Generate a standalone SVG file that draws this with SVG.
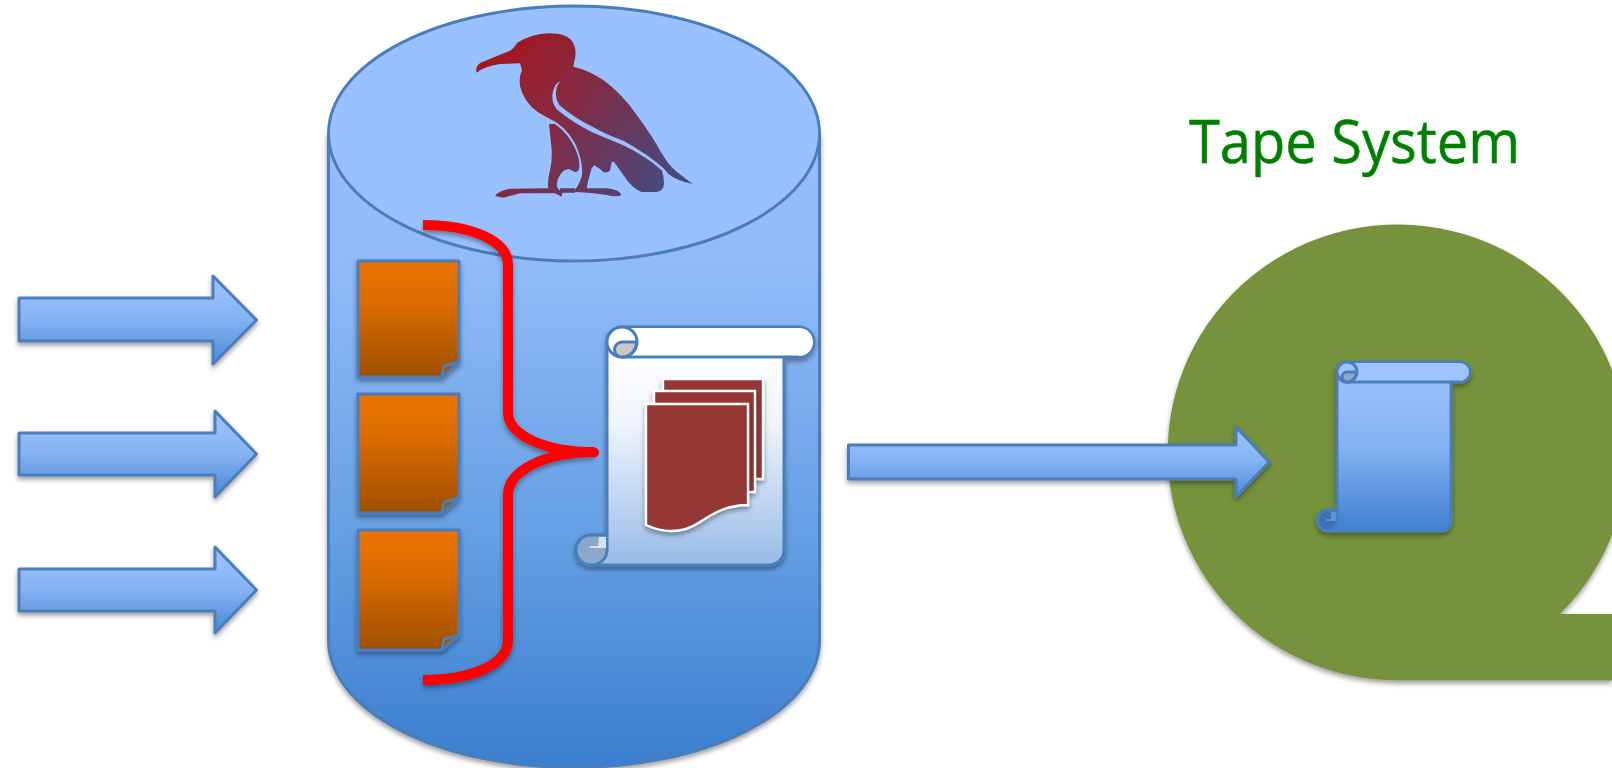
<svg xmlns="http://www.w3.org/2000/svg" width="1612" height="768" viewBox="0 0 1612 768">
<style>
.ol{stroke:#4a7ebb;stroke-width:3;stroke-linejoin:round}
.arrow{fill:url(#arrowFill);filter:url(#sh)}
.doc{fill:url(#docFill);filter:url(#sh)}
.fold{fill:#a65400;stroke:#4a7ebb;stroke-width:3;stroke-linejoin:round}
.mdoc{fill:#953735;stroke:#fff;stroke-width:2.4;filter:url(#sh)}
</style>
<defs>
<filter id="sh" x="-15%" y="-15%" width="130%" height="130%"><feDropShadow dx="0" dy="3" stdDeviation="2.6" flood-color="#000" flood-opacity=".38"/></filter>
<linearGradient id="arrowFill" x1="0" y1="0" x2="0" y2="1"><stop offset="0" stop-color="#a0c4ff"/><stop offset=".5" stop-color="#84b2f2"/><stop offset="1" stop-color="#4a8ad8"/></linearGradient>
<linearGradient id="cylFill" gradientUnits="userSpaceOnUse" x1="0" y1="6" x2="0" y2="768"><stop offset="0" stop-color="#9cc2ff"/><stop offset=".35" stop-color="#90baf8"/><stop offset=".7" stop-color="#659fe4"/><stop offset="1" stop-color="#3a7ecf"/></linearGradient>
<linearGradient id="docFill" x1="0" y1="0" x2="0" y2="1"><stop offset="0" stop-color="#ea7300"/><stop offset=".35" stop-color="#dc6c00"/><stop offset="1" stop-color="#a04f00"/></linearGradient>
<linearGradient id="scrollFill" gradientUnits="userSpaceOnUse" x1="0" y1="345" x2="0" y2="565"><stop offset="0" stop-color="#fff"/><stop offset=".35" stop-color="#f0f5fd"/><stop offset="1" stop-color="#98bbe8"/></linearGradient>
<linearGradient id="scroll2Fill" gradientUnits="userSpaceOnUse" x1="0" y1="362" x2="0" y2="531"><stop offset="0" stop-color="#a0c4ff"/><stop offset=".5" stop-color="#84b2f2"/><stop offset="1" stop-color="#3f80d0"/></linearGradient>
<linearGradient id="birdFill" gradientUnits="userSpaceOnUse" x1="60" y1="90" x2="610" y2="520"><stop offset="0" stop-color="#a8141a"/><stop offset=".45" stop-color="#842a42"/><stop offset="1" stop-color="#454a80"/></linearGradient>
</defs>

<g id="tape-reel">
<path d="M1560 614A230 228 0 1 0 1398 680.500H1612V614Z" fill="#76923c" filter="url(#sh)"/>
</g>
<g id="tape-label">
<text x="1189" y="163" font-family="'Open Sans','Noto Sans',sans-serif" font-size="60" fill="#008000" stroke="#008000" stroke-width=".5" textLength="331" lengthAdjust="spacingAndGlyphs">Tape System</text>
</g>

<g id="cylinder">
<path class="ol" d="M328.500 133.500V640.500A245.500 127 0 0 0 819.500 640.500V133.500Z" fill="url(#cylFill)" filter="url(#sh)"/>
<ellipse class="ol" cx="574" cy="133.500" rx="245.500" ry="127.500" fill="#9ac1ff"/>
</g>

<g id="bird" transform="translate(460 20) scale(.33333)">
<path fill="url(#birdFill)" d="M50 158Q44 140 62 128Q100 112 150 92Q162 85 172 68Q215 42 265 40Q310 38 332 58Q350 80 346 110L340 140Q385 150 430 180Q490 225 530 285Q575 345 605 400Q625 435 650 455L698 492Q650 482 625 462L606 452Q612 470 612 490Q612 512 590 516L545 516Q515 505 490 465L462 425L455 425L450 452Q435 465 420 447L403 436L395 445L385 480L380 505L440 505Q480 510 485 525Q470 533 440 525L400 520L340 515Q355 500 365 470Q372 430 345 370Q315 315 260 292Q205 265 185 215Q172 180 186 150L180 130L120 132Q70 140 50 158Z
M301 184Q283 190 277 225Q276 250 290 268Q340 310 400 338L490 376Q560 410 606 452L625 462L610 444Q560 400 490 362Q440 345 400 322Q340 292 298 255Q285 235 288 215Q290 195 301 184Z"/>
<path fill="url(#birdFill)" d="M267 312L285 312Q325 340 345 385Q365 430 355 452Q345 462 330 448Q310 445 297 470Q285 490 295 508L308 517L305 530L285 520L180 520L130 533L105 528Q115 512 150 506L265 505Q262 480 270 450Q278 420 274 380Z M300 505H345V518H300Z"/>
</g>

<g id="doc-1">
<path class="ol doc" d="M358 261H459V362L442 377H358Z"/>
<path class="fold" d="M459 362L444 366L442 377Z"/>
</g>
<g id="doc-2">
<path class="ol doc" d="M358 394H459V498L442 513H358Z"/>
<path class="fold" d="M459 498L444 502L442 513Z"/>
</g>
<g id="doc-3">
<path class="ol doc" d="M358 530H459V635L442 650H358Z"/>
<path class="fold" d="M459 635L444 639L442 650Z"/>
</g>

<g id="scroll">
<path class="ol" filter="url(#sh)" fill="url(#scrollFill)" d="M622 327H799A15 15 0 0 1 799 357H784V550A15 15 0 0 1 769 565H591A15 15 0 0 1 591 535H607V342A15 15 0 0 1 622 327Z"/>
<path fill="#fff" d="M622 328H799A14 14 0 0 1 799 356H622Z"/>
<path class="ol" fill="none" d="M622 357H799"/>
<path class="ol" fill="#fff" d="M622 327A15 15 0 0 1 622 357A15 15 0 0 1 622 327Z"/>
<path class="ol" fill="#c9c9c9" d="M622 357A7.500 7.500 0 0 1 622 342H636.500A15 15 0 0 1 622 357Z"/>
<path class="ol" fill="#8ba8cb" d="M591 535H607V550A15 15 0 0 1 591 565A15 15 0 0 1 591 535Z"/>
<path fill="#d4e2f4" d="M599 537H606V548H590V546H598Z"/>
<path class="mdoc" d="M663 379H763V479H663Z"/>
<path class="mdoc" d="M654 391H755V492H654Z"/>
<path class="mdoc" d="M646 404H748V505C728 505 715 512 700 522C685 532 668 535 646 525Z"/>
</g>

<g id="scroll-tape">
<path class="ol" filter="url(#sh)" fill="url(#scroll2Fill)" d="M1347 362H1460A10 10 0 0 1 1460 382H1451V521A10 10 0 0 1 1441 531H1328A10.500 10.500 0 0 1 1328 510H1337V372A10 10 0 0 1 1347 362Z"/>
<path fill="#9fc3ff" d="M1347 363H1460A9 9 0 0 1 1460 381H1347Z"/>
<path class="ol" fill="none" d="M1347 382H1460"/>
<path class="ol" fill="#9fc3ff" d="M1347 362A10 10 0 0 1 1347 382A10 10 0 0 1 1347 362Z"/>
<path class="ol" fill="#8fa8cc" d="M1347 382A5 5 0 0 1 1347 372H1356.500A10 10 0 0 1 1347 382Z"/>
<path class="ol" fill="#3c72b5" d="M1328 510H1337V520A10.500 10.500 0 0 1 1328 531A10.500 10.500 0 0 1 1328 510Z"/>
<path fill="#5c94d8" d="M1331 512H1336V521H1326V519H1331Z"/>
</g>

<g id="connectors">
<path class="ol arrow" d="M19 298H213V276L256.500 320L213 364V341H19Z"/>
<path class="ol arrow" d="M19 433H215V411L256.500 454L215 497V475H19Z"/>
<path class="ol arrow" d="M19 569H215V547L256.500 590L215 633V611H19Z"/>
<path class="ol arrow" d="M848.500 445H1236V427L1269 462L1236 497V479H848.500Z"/>
<path id="brace" filter="url(#sh)" fill="none" stroke="#ff0000" stroke-width="10" d="M423 225C470 225 508 240 508 265V412C508 436 546 452 594 452C546 452 508 470 508 495V640C508 665 470 680 423 680"/>
<circle cx="594" cy="452.500" r="5" fill="#f00"/>
</g>
</svg>
